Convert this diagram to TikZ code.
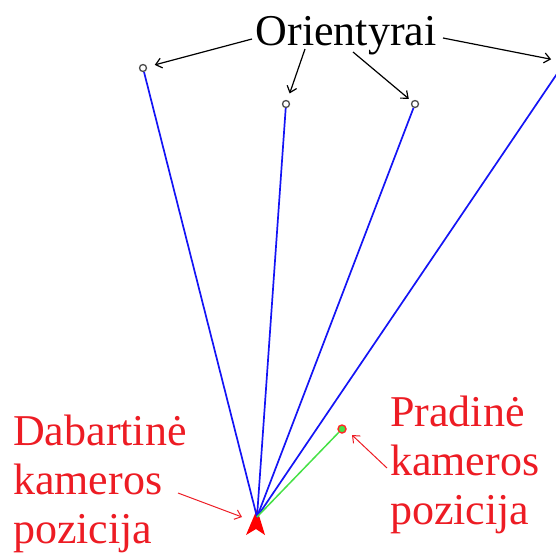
\documentclass[tikz,border=0pt]{standalone}
\usepackage{fontspec}
\setmainfont{Liberation Serif}
\usetikzlibrary{arrows.meta}
\definecolor{txtred}{RGB}{237,28,36}
\definecolor{lmblue}{RGB}{20,20,245}
\definecolor{lmgreen}{RGB}{70,225,70}
\begin{document}
\begin{tikzpicture}[x=1pt,y=-1pt,
  lbl/.style={text=txtred, font=\fontsize{44}{49}\selectfont, align=left, inner sep=0pt, anchor=base west},
  title/.style={font=\fontsize{44}{50}\selectfont, inner sep=0pt, anchor=base},
  lmark/.style={circle, draw=black!70, line width=1.3pt, inner sep=0pt, minimum size=7pt},
  initmark/.style={circle, draw=red!85, fill=lmgreen, line width=1.4pt, inner sep=0pt, minimum size=8pt},
  ray/.style={lmblue, line width=1.7pt},
  blk/.style={-{Straight Barb[length=6pt,width=10pt]}, line width=1.2pt, black},
  rdarr/.style={-{Straight Barb[length=6pt,width=10pt]}, line width=1pt, txtred}]
\useasboundingbox (0,0) rectangle (556,555);
\clip (0,0) rectangle (556,555);
% camera
\fill[red] (257,509) -- (265,535) -- (256,529) -- (246,535) -- cycle;
\coordinate (cam) at (257,517);
% landmarks
\node[lmark] (l1) at (143,68) {};
\node[lmark] (l2) at (286,104) {};
\node[lmark] (l3) at (415,104) {};
\node[lmark] (l4) at (565,62) {};
\node[initmark] (init) at (342,429) {};
% rays
\draw[ray] (cam) -- (l1);
\draw[ray] (cam) -- (l2);
\draw[ray] (cam) -- (l3);
\draw[ray] (cam) -- (l4);
\draw[lmgreen, line width=1.5pt] (cam) -- (init);
% title and arrows
\node[title] (ori) at (346,45) {Orientyrai};
\coordinate (o1) at (252,39);
\coordinate (o2) at (305,49);
\coordinate (o3) at (353,52);
\coordinate (o4) at (443,38);
\draw[blk, shorten >=8pt] (o1) -- (l1);
\draw[blk, shorten >=7pt] (o2) -- (l2);
\draw[blk, shorten >=4pt] (o3) -- (l3);
\draw[blk, shorten >=10pt] (o4) -- (l4);
% labels (anchored at the baseline of the last line)
\node[lbl] (dab) at (13,543) {Dabartinė\\kameros\\pozicija};
\node[lbl] (pra) at (390,524) {Pradinė\\kameros\\pozicija};
\coordinate (d1) at (178,493);
\coordinate (d2) at (242,517);
\coordinate (p1) at (387,468);
\coordinate (p2) at (352,435);
\draw[rdarr] (d1) -- (d2);
\draw[rdarr] (p1) -- (p2);
\end{tikzpicture}
\end{document}
